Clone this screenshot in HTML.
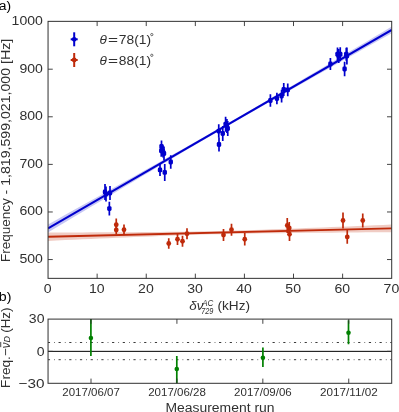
<!DOCTYPE html>
<html><head><meta charset="utf-8"><title>chart</title><style>html,body{margin:0;padding:0;background:#fff}body{width:399px;height:412px;overflow:hidden;font-family:"Liberation Sans",sans-serif}</style></head><body>
<svg width="399" height="412" viewBox="0 0 399 412" style="display:block;will-change:transform" font-family="Liberation Sans, sans-serif">
<rect width="100%" height="100%" fill="#fff"/>
<defs><clipPath id="c1"><rect x="48.05" y="21.35" width="343.65" height="257"/></clipPath><clipPath id="c2"><rect x="48.05" y="319.1" width="343.65" height="64.2"/></clipPath></defs>
<g clip-path="url(#c1)">
<polygon points="48.05,224.45 56.64,219.65 65.23,214.86 73.82,210.06 82.41,205.26 91.01,200.46 99.60,195.65 108.19,190.85 116.78,186.04 125.37,181.23 133.96,176.42 142.55,171.60 151.14,166.78 159.74,161.95 168.33,157.11 176.92,152.27 185.51,147.41 194.10,142.55 202.69,137.66 211.28,132.76 219.88,127.83 228.47,122.88 237.06,117.91 245.65,112.92 254.24,107.91 262.83,102.89 271.42,97.85 280.01,92.79 288.60,87.73 297.20,82.65 305.79,77.57 314.38,72.49 322.97,67.39 331.56,62.30 340.15,57.20 348.74,52.10 357.33,46.99 365.93,41.88 374.52,36.77 383.11,31.66 391.70,26.55 391.70,33.15 383.11,37.97 374.52,42.79 365.93,47.61 357.33,52.43 348.74,57.25 340.15,62.08 331.56,66.91 322.97,71.75 314.38,76.58 305.79,81.43 297.20,86.28 288.60,91.13 280.01,96.00 271.42,100.87 262.83,105.76 254.24,110.67 245.65,115.59 237.06,120.53 228.47,125.49 219.88,130.47 211.28,135.47 202.69,140.50 194.10,145.54 185.51,150.61 176.92,155.68 168.33,160.77 159.74,165.86 151.14,170.96 142.55,176.07 133.96,181.18 125.37,186.30 116.78,191.42 108.19,196.54 99.60,201.67 91.01,206.79 82.41,211.92 73.82,217.05 65.23,222.18 56.64,227.32 48.05,232.45" fill="#0000cd" fill-opacity="0.22"/>
<polygon points="48.05,232.50 56.64,232.48 65.23,232.45 73.82,232.42 82.41,232.40 91.01,232.36 99.60,232.33 108.19,232.29 116.78,232.25 125.37,232.20 133.96,232.15 142.55,232.09 151.14,232.03 159.74,231.95 168.33,231.86 176.92,231.76 185.51,231.64 194.10,231.50 202.69,231.34 211.28,231.16 219.88,230.95 228.47,230.72 237.06,230.48 245.65,230.22 254.24,229.95 262.83,229.66 271.42,229.36 280.01,229.06 288.60,228.74 297.20,228.42 305.79,228.09 314.38,227.75 322.97,227.42 331.56,227.07 340.15,226.73 348.74,226.38 357.33,226.03 365.93,225.67 374.52,225.32 383.11,224.96 391.70,224.60 391.70,232.20 383.11,232.26 374.52,232.31 365.93,232.37 357.33,232.43 348.74,232.50 340.15,232.56 331.56,232.63 322.97,232.70 314.38,232.78 305.79,232.86 297.20,232.95 288.60,233.04 280.01,233.14 271.42,233.25 262.83,233.36 254.24,233.49 245.65,233.64 237.06,233.79 228.47,233.96 219.88,234.15 211.28,234.36 202.69,234.59 194.10,234.84 185.51,235.12 176.92,235.42 168.33,235.73 159.74,236.05 151.14,236.39 142.55,236.74 133.96,237.10 125.37,237.46 116.78,237.83 108.19,238.20 99.60,238.58 91.01,238.96 82.41,239.34 73.82,239.73 65.23,240.12 56.64,240.51 48.05,240.90" fill="#bf2a0a" fill-opacity="0.24"/>
<line x1="48.05" y1="228.45" x2="391.7" y2="29.85" stroke="#0000cd" stroke-width="2.1"/>
<line x1="48.05" y1="236.7" x2="391.7" y2="228.4" stroke="#bf2a0a" stroke-width="1.9"/>
<line x1="105" y1="184" x2="105" y2="200" stroke="#0000cd" stroke-width="1.7"/>
<rect x="102.8" y="189.6" width="4.4" height="4.8" rx="1.4" fill="#0000cd"/>
<line x1="106" y1="186.5" x2="106" y2="201.5" stroke="#0000cd" stroke-width="1.7"/>
<rect x="103.8" y="191.6" width="4.4" height="4.8" rx="1.4" fill="#0000cd"/>
<line x1="110" y1="186" x2="110" y2="200" stroke="#0000cd" stroke-width="1.7"/>
<rect x="107.8" y="190.6" width="4.4" height="4.8" rx="1.4" fill="#0000cd"/>
<line x1="109.35" y1="201.7" x2="109.35" y2="215.5" stroke="#0000cd" stroke-width="1.7"/>
<rect x="107.15" y="206.2" width="4.4" height="4.8" rx="1.4" fill="#0000cd"/>
<line x1="161.5" y1="140.5" x2="161.5" y2="152.5" stroke="#0000cd" stroke-width="1.7"/>
<rect x="159.3" y="144.1" width="4.4" height="4.8" rx="1.4" fill="#0000cd"/>
<line x1="161.25" y1="144.75" x2="161.25" y2="156.75" stroke="#0000cd" stroke-width="1.7"/>
<rect x="159.05" y="148.35" width="4.4" height="4.8" rx="1.4" fill="#0000cd"/>
<line x1="163" y1="145.5" x2="163" y2="157.5" stroke="#0000cd" stroke-width="1.7"/>
<rect x="160.8" y="149.1" width="4.4" height="4.8" rx="1.4" fill="#0000cd"/>
<line x1="164" y1="146.5" x2="164" y2="160.5" stroke="#0000cd" stroke-width="1.7"/>
<rect x="161.8" y="151.1" width="4.4" height="4.8" rx="1.4" fill="#0000cd"/>
<line x1="160" y1="163.9" x2="160" y2="175.9" stroke="#0000cd" stroke-width="1.7"/>
<rect x="157.8" y="167.5" width="4.4" height="4.8" rx="1.4" fill="#0000cd"/>
<line x1="164.75" y1="163.9" x2="164.75" y2="180.9" stroke="#0000cd" stroke-width="1.7"/>
<rect x="162.55" y="170" width="4.4" height="4.8" rx="1.4" fill="#0000cd"/>
<line x1="170.75" y1="155.25" x2="170.75" y2="168.75" stroke="#0000cd" stroke-width="1.7"/>
<rect x="168.55" y="159.6" width="4.4" height="4.8" rx="1.4" fill="#0000cd"/>
<line x1="218.75" y1="124.35" x2="218.75" y2="137.85" stroke="#0000cd" stroke-width="1.7"/>
<rect x="216.55" y="128.7" width="4.4" height="4.8" rx="1.4" fill="#0000cd"/>
<line x1="219" y1="137.5" x2="219" y2="151.5" stroke="#0000cd" stroke-width="1.7"/>
<rect x="216.8" y="142.1" width="4.4" height="4.8" rx="1.4" fill="#0000cd"/>
<line x1="222.75" y1="126" x2="222.75" y2="141" stroke="#0000cd" stroke-width="1.7"/>
<rect x="220.55" y="131.1" width="4.4" height="4.8" rx="1.4" fill="#0000cd"/>
<line x1="225.6" y1="116.75" x2="225.6" y2="131.75" stroke="#0000cd" stroke-width="1.7"/>
<rect x="223.4" y="121.85" width="4.4" height="4.8" rx="1.4" fill="#0000cd"/>
<line x1="226.9" y1="119.1" x2="226.9" y2="133.1" stroke="#0000cd" stroke-width="1.7"/>
<rect x="224.7" y="123.7" width="4.4" height="4.8" rx="1.4" fill="#0000cd"/>
<line x1="227.75" y1="121" x2="227.75" y2="136" stroke="#0000cd" stroke-width="1.7"/>
<rect x="225.55" y="126.1" width="4.4" height="4.8" rx="1.4" fill="#0000cd"/>
<line x1="270.4" y1="94.25" x2="270.4" y2="106.75" stroke="#0000cd" stroke-width="1.7"/>
<rect x="268.2" y="98.1" width="4.4" height="4.8" rx="1.4" fill="#0000cd"/>
<line x1="276.9" y1="92.75" x2="276.9" y2="104.25" stroke="#0000cd" stroke-width="1.7"/>
<rect x="274.7" y="96.1" width="4.4" height="4.8" rx="1.4" fill="#0000cd"/>
<line x1="281.6" y1="89.7" x2="281.6" y2="102.5" stroke="#0000cd" stroke-width="1.7"/>
<rect x="279.4" y="93.7" width="4.4" height="4.8" rx="1.4" fill="#0000cd"/>
<line x1="283.75" y1="83" x2="283.75" y2="96" stroke="#0000cd" stroke-width="1.7"/>
<rect x="281.55" y="87.1" width="4.4" height="4.8" rx="1.4" fill="#0000cd"/>
<line x1="287.75" y1="83.6" x2="287.75" y2="96.2" stroke="#0000cd" stroke-width="1.7"/>
<rect x="285.55" y="87.5" width="4.4" height="4.8" rx="1.4" fill="#0000cd"/>
<line x1="330.4" y1="58" x2="330.4" y2="70" stroke="#0000cd" stroke-width="1.7"/>
<rect x="328.2" y="61.6" width="4.4" height="4.8" rx="1.4" fill="#0000cd"/>
<line x1="337.5" y1="47.5" x2="337.5" y2="61" stroke="#0000cd" stroke-width="1.7"/>
<rect x="335.3" y="51.85" width="4.4" height="4.8" rx="1.4" fill="#0000cd"/>
<line x1="338.75" y1="49.1" x2="338.75" y2="63.1" stroke="#0000cd" stroke-width="1.7"/>
<rect x="336.55" y="53.7" width="4.4" height="4.8" rx="1.4" fill="#0000cd"/>
<line x1="340.25" y1="47.25" x2="340.25" y2="61.25" stroke="#0000cd" stroke-width="1.7"/>
<rect x="338.05" y="51.85" width="4.4" height="4.8" rx="1.4" fill="#0000cd"/>
<line x1="344.6" y1="61.8" x2="344.6" y2="76.2" stroke="#0000cd" stroke-width="1.7"/>
<rect x="342.4" y="66.6" width="4.4" height="4.8" rx="1.4" fill="#0000cd"/>
<line x1="346.25" y1="47.75" x2="346.25" y2="60.75" stroke="#0000cd" stroke-width="1.7"/>
<rect x="344.05" y="51.85" width="4.4" height="4.8" rx="1.4" fill="#0000cd"/>
<line x1="346.9" y1="47.6" x2="346.9" y2="64.6" stroke="#0000cd" stroke-width="1.7"/>
<rect x="344.7" y="53.7" width="4.4" height="4.8" rx="1.4" fill="#0000cd"/>
<line x1="116.25" y1="218.5" x2="116.25" y2="231" stroke="#bf2a0a" stroke-width="1.7"/>
<circle cx="116.25" cy="224.75" r="2.4" fill="#bf2a0a"/>
<line x1="116.25" y1="225.5" x2="116.25" y2="234.5" stroke="#bf2a0a" stroke-width="1.7"/>
<circle cx="116.25" cy="230" r="2.4" fill="#bf2a0a"/>
<line x1="124" y1="224.5" x2="124" y2="235" stroke="#bf2a0a" stroke-width="1.7"/>
<circle cx="124" cy="229.75" r="2.4" fill="#bf2a0a"/>
<line x1="168.75" y1="238.25" x2="168.75" y2="248.75" stroke="#bf2a0a" stroke-width="1.7"/>
<circle cx="168.75" cy="243.5" r="2.4" fill="#bf2a0a"/>
<line x1="177.5" y1="233.5" x2="177.5" y2="245" stroke="#bf2a0a" stroke-width="1.7"/>
<circle cx="177.5" cy="239.25" r="2.4" fill="#bf2a0a"/>
<line x1="182.5" y1="235.65" x2="182.5" y2="246.85" stroke="#bf2a0a" stroke-width="1.7"/>
<circle cx="182.5" cy="241.25" r="2.4" fill="#bf2a0a"/>
<line x1="187" y1="228.15" x2="187" y2="239.35" stroke="#bf2a0a" stroke-width="1.7"/>
<circle cx="187" cy="233.75" r="2.4" fill="#bf2a0a"/>
<line x1="223.5" y1="229" x2="223.5" y2="241" stroke="#bf2a0a" stroke-width="1.7"/>
<circle cx="223.5" cy="235" r="2.4" fill="#bf2a0a"/>
<line x1="231.5" y1="223.75" x2="231.5" y2="235.75" stroke="#bf2a0a" stroke-width="1.7"/>
<circle cx="231.5" cy="229.75" r="2.4" fill="#bf2a0a"/>
<line x1="244.75" y1="233" x2="244.75" y2="245.5" stroke="#bf2a0a" stroke-width="1.7"/>
<circle cx="244.75" cy="239.25" r="2.4" fill="#bf2a0a"/>
<line x1="287.25" y1="218" x2="287.25" y2="233" stroke="#bf2a0a" stroke-width="1.7"/>
<circle cx="287.25" cy="225.5" r="2.4" fill="#bf2a0a"/>
<line x1="289.25" y1="222" x2="289.25" y2="234" stroke="#bf2a0a" stroke-width="1.7"/>
<circle cx="289.25" cy="228" r="2.4" fill="#bf2a0a"/>
<line x1="289.5" y1="227.5" x2="289.5" y2="241" stroke="#bf2a0a" stroke-width="1.7"/>
<circle cx="289.5" cy="234.25" r="2.4" fill="#bf2a0a"/>
<line x1="343" y1="212.5" x2="343" y2="228.5" stroke="#bf2a0a" stroke-width="1.7"/>
<circle cx="343" cy="220.5" r="2.4" fill="#bf2a0a"/>
<line x1="347.25" y1="230" x2="347.25" y2="243.8" stroke="#bf2a0a" stroke-width="1.7"/>
<circle cx="347.25" cy="236.9" r="2.4" fill="#bf2a0a"/>
<line x1="362.75" y1="213.5" x2="362.75" y2="227.5" stroke="#bf2a0a" stroke-width="1.7"/>
<circle cx="362.75" cy="220.5" r="2.4" fill="#bf2a0a"/>
</g>
<line x1="74.2" y1="32.3" x2="74.2" y2="46.3" stroke="#0000cd" stroke-width="2"/>
<line x1="70.7" y1="39.3" x2="77.7" y2="39.3" stroke="#0000cd" stroke-width="2"/>
<circle cx="74.2" cy="39.3" r="2.4" fill="#0000cd"/>
<line x1="74.2" y1="53" x2="74.2" y2="67" stroke="#bf2a0a" stroke-width="2"/>
<line x1="70.7" y1="60" x2="77.7" y2="60" stroke="#bf2a0a" stroke-width="2"/>
<circle cx="74.2" cy="60" r="2.4" fill="#bf2a0a"/>
<text x="99.40" y="43.90" font-size="12.60" fill="#303030" font-style="italic" textLength="7.34" lengthAdjust="spacingAndGlyphs">θ</text>
<text x="108.00" y="43.90" font-size="12.60" fill="#303030" textLength="10.05" lengthAdjust="spacingAndGlyphs">=</text>
<text x="118.80" y="43.90" font-size="12.60" fill="#303030" textLength="32.27" lengthAdjust="spacingAndGlyphs">78(1)</text>
<circle cx="151.8" cy="34.6" r="1.15" fill="none" stroke="#303030" stroke-width="0.7"/>
<text x="99.40" y="64.60" font-size="12.60" fill="#303030" font-style="italic" textLength="7.34" lengthAdjust="spacingAndGlyphs">θ</text>
<text x="108.00" y="64.60" font-size="12.60" fill="#303030" textLength="10.05" lengthAdjust="spacingAndGlyphs">=</text>
<text x="118.80" y="64.60" font-size="12.60" fill="#303030" textLength="32.27" lengthAdjust="spacingAndGlyphs">88(1)</text>
<circle cx="151.8" cy="55.3" r="1.15" fill="none" stroke="#303030" stroke-width="0.7"/>
<rect x="48.05" y="21.35" width="343.65" height="257" fill="none" stroke="#303030" stroke-width="1"/>
<path d="M97.14 278.35v-4.7M97.14 21.35v4.7M146.24 278.35v-4.7M146.24 21.35v4.7M195.33 278.35v-4.7M195.33 21.35v4.7M244.42 278.35v-4.7M244.42 21.35v4.7M293.51 278.35v-4.7M293.51 21.35v4.7M342.61 278.35v-4.7M342.61 21.35v4.7M48.05 259.56h4.7M391.70 259.56h-4.7M48.05 211.97h4.7M391.70 211.97h-4.7M48.05 164.38h4.7M391.70 164.38h-4.7M48.05 116.79h4.7M391.70 116.79h-4.7M48.05 69.19h4.7M391.70 69.19h-4.7" stroke="#303030" stroke-width="0.9" fill="none"/>
<text x="43.84" y="293.40" font-size="12.92" fill="#303030" textLength="7.83" lengthAdjust="spacingAndGlyphs">0</text>
<text x="89.02" y="293.40" font-size="12.92" fill="#303030" textLength="15.65" lengthAdjust="spacingAndGlyphs">10</text>
<text x="138.11" y="293.40" font-size="12.92" fill="#303030" textLength="15.65" lengthAdjust="spacingAndGlyphs">20</text>
<text x="187.20" y="293.40" font-size="12.92" fill="#303030" textLength="15.65" lengthAdjust="spacingAndGlyphs">30</text>
<text x="236.30" y="293.40" font-size="12.92" fill="#303030" textLength="15.65" lengthAdjust="spacingAndGlyphs">40</text>
<text x="285.39" y="293.40" font-size="12.92" fill="#303030" textLength="15.65" lengthAdjust="spacingAndGlyphs">50</text>
<text x="334.48" y="293.40" font-size="12.92" fill="#303030" textLength="15.65" lengthAdjust="spacingAndGlyphs">60</text>
<text x="383.57" y="293.40" font-size="12.92" fill="#303030" textLength="15.65" lengthAdjust="spacingAndGlyphs">70</text>
<text x="19.42" y="262.96" font-size="12.92" fill="#303030" textLength="23.48" lengthAdjust="spacingAndGlyphs">500</text>
<text x="19.42" y="215.37" font-size="12.92" fill="#303030" textLength="23.48" lengthAdjust="spacingAndGlyphs">600</text>
<text x="19.42" y="167.78" font-size="12.92" fill="#303030" textLength="23.48" lengthAdjust="spacingAndGlyphs">700</text>
<text x="19.42" y="120.19" font-size="12.92" fill="#303030" textLength="23.48" lengthAdjust="spacingAndGlyphs">800</text>
<text x="19.42" y="72.59" font-size="12.92" fill="#303030" textLength="23.48" lengthAdjust="spacingAndGlyphs">900</text>
<text x="11.60" y="25.00" font-size="12.92" fill="#303030" textLength="31.30" lengthAdjust="spacingAndGlyphs">1000</text>
<text x="-1.20" y="10.30" font-size="12.92" fill="#000" textLength="12.34" lengthAdjust="spacingAndGlyphs">a)</text>
<text x="-1.20" y="300.50" font-size="12.92" fill="#000" textLength="12.61" lengthAdjust="spacingAndGlyphs">b)</text>
<text transform="translate(9.50,150.30) rotate(-90)" x="-111.65" y="0" font-size="12.97" fill="#303030" textLength="63.80" lengthAdjust="spacingAndGlyphs">Frequency</text>
<text transform="translate(9.50,150.30) rotate(-90)" x="-43.92" y="0" font-size="12.97" fill="#303030" textLength="4.46" lengthAdjust="spacingAndGlyphs">-</text>
<text transform="translate(9.50,150.30) rotate(-90)" x="-35.54" y="0" font-size="12.97" fill="#303030" textLength="39.28" lengthAdjust="spacingAndGlyphs">1,819,</text>
<text transform="translate(9.50,150.30) rotate(-90)" x="3.74" y="0" font-size="12.97" fill="#303030" textLength="27.50" lengthAdjust="spacingAndGlyphs">599,</text>
<text transform="translate(9.50,150.30) rotate(-90)" x="31.24" y="0" font-size="12.97" fill="#303030" textLength="27.50" lengthAdjust="spacingAndGlyphs">021,</text>
<text transform="translate(9.50,150.30) rotate(-90)" x="58.74" y="0" font-size="12.97" fill="#303030" textLength="23.57" lengthAdjust="spacingAndGlyphs">000</text>
<text transform="translate(9.50,150.30) rotate(-90)" x="86.24" y="0" font-size="12.97" fill="#303030" textLength="25.41" lengthAdjust="spacingAndGlyphs">[Hz]</text>
<text x="189.30" y="309.50" font-size="12.60" fill="#303030" font-style="italic" textLength="14.04" lengthAdjust="spacingAndGlyphs">δν</text>
<text x="202.2" y="305.8" font-size="8.8" fill="#303030" font-style="italic" textLength="11.2" lengthAdjust="spacingAndGlyphs">AC</text>
<text x="201.2" y="313.6" font-size="8.8" fill="#303030" font-style="italic" textLength="12.2" lengthAdjust="spacingAndGlyphs">729</text>
<text x="217.50" y="309.50" font-size="12.97" fill="#303030" textLength="32.56" lengthAdjust="spacingAndGlyphs">(kHz)</text>
<g clip-path="url(#c2)">
<line x1="48.05" y1="351.35" x2="391.7" y2="351.35" stroke="#000" stroke-width="1"/>
<line x1="48.05" y1="342.5" x2="391.7" y2="342.5" stroke="#303030" stroke-width="0.95" stroke-dasharray="2.2 4.1 0.7 3.7" stroke-dashoffset="0.2"/>
<line x1="48.05" y1="359.7" x2="391.7" y2="359.7" stroke="#303030" stroke-width="0.95" stroke-dasharray="2.2 4.1 0.7 3.7" stroke-dashoffset="0.2"/>
<line x1="90.9" y1="319" x2="90.9" y2="356" stroke="#008000" stroke-width="1.7"/>
<circle cx="90.9" cy="338" r="2.3" fill="#008000"/>
<line x1="176.8" y1="355.9" x2="176.8" y2="384" stroke="#008000" stroke-width="1.7"/>
<circle cx="176.8" cy="369" r="2.3" fill="#008000"/>
<line x1="262.9" y1="347.6" x2="262.9" y2="367.1" stroke="#008000" stroke-width="1.7"/>
<circle cx="262.9" cy="357.7" r="2.3" fill="#008000"/>
<line x1="348.5" y1="320.3" x2="348.5" y2="344.3" stroke="#008000" stroke-width="1.7"/>
<circle cx="348.5" cy="332.8" r="2.3" fill="#008000"/>
</g>
<rect x="48.05" y="319.1" width="343.65" height="64.2" fill="none" stroke="#303030" stroke-width="1"/>
<path d="M91.01 383.30v-4.7M91.01 319.10v4.7M176.92 383.30v-4.7M176.92 319.10v4.7M262.83 383.30v-4.7M262.83 319.10v4.7M348.74 383.30v-4.7M348.74 319.10v4.7M48.05 351.35h4.7M391.70 351.35h-4.7" stroke="#303030" stroke-width="0.9" fill="none"/>
<text x="62.29" y="395.50" font-size="10.50" fill="#303030" textLength="57.64" lengthAdjust="spacingAndGlyphs">2017/06/07</text>
<text x="148.20" y="395.50" font-size="10.50" fill="#303030" textLength="57.64" lengthAdjust="spacingAndGlyphs">2017/06/28</text>
<text x="234.11" y="395.50" font-size="10.50" fill="#303030" textLength="57.64" lengthAdjust="spacingAndGlyphs">2017/09/06</text>
<text x="320.03" y="395.50" font-size="10.50" fill="#303030" textLength="57.64" lengthAdjust="spacingAndGlyphs">2017/11/02</text>
<text x="28.85" y="322.50" font-size="12.92" fill="#303030" textLength="15.65" lengthAdjust="spacingAndGlyphs">30</text>
<text x="36.67" y="355.55" font-size="12.92" fill="#303030" textLength="7.83" lengthAdjust="spacingAndGlyphs">0</text>
<text x="18.54" y="387.60" font-size="12.92" fill="#303030" textLength="25.96" lengthAdjust="spacingAndGlyphs">−30</text>
<text x="165.50" y="412.00" font-size="12.92" fill="#303030" textLength="109.00" lengthAdjust="spacingAndGlyphs">Measurement run</text>
<text transform="translate(9.50,348.20) rotate(-90)" x="-39.70" y="0" font-size="12.60" fill="#303030" textLength="39.57" lengthAdjust="spacingAndGlyphs">Freq.−</text>
<text transform="translate(9.50,348.20) rotate(-90)" x="0.07" y="0" font-size="12.60" fill="#303030" font-style="italic" textLength="5.76" lengthAdjust="spacingAndGlyphs">ν</text>
<rect transform="translate(9.5,348.2) rotate(-90)" x="1.07" y="-9.2" width="5.2" height="0.9" fill="#303030"/>
<text transform="translate(9.50,348.20) rotate(-90)" x="5.67" y="0" font-size="8.82" fill="#303030" font-style="italic" textLength="6.47" lengthAdjust="spacingAndGlyphs">D</text>
<text transform="translate(9.50,348.20) rotate(-90)" x="15.37" y="0" font-size="12.97" fill="#303030" textLength="25.41" lengthAdjust="spacingAndGlyphs">(Hz)</text>
</svg>
</body></html>
